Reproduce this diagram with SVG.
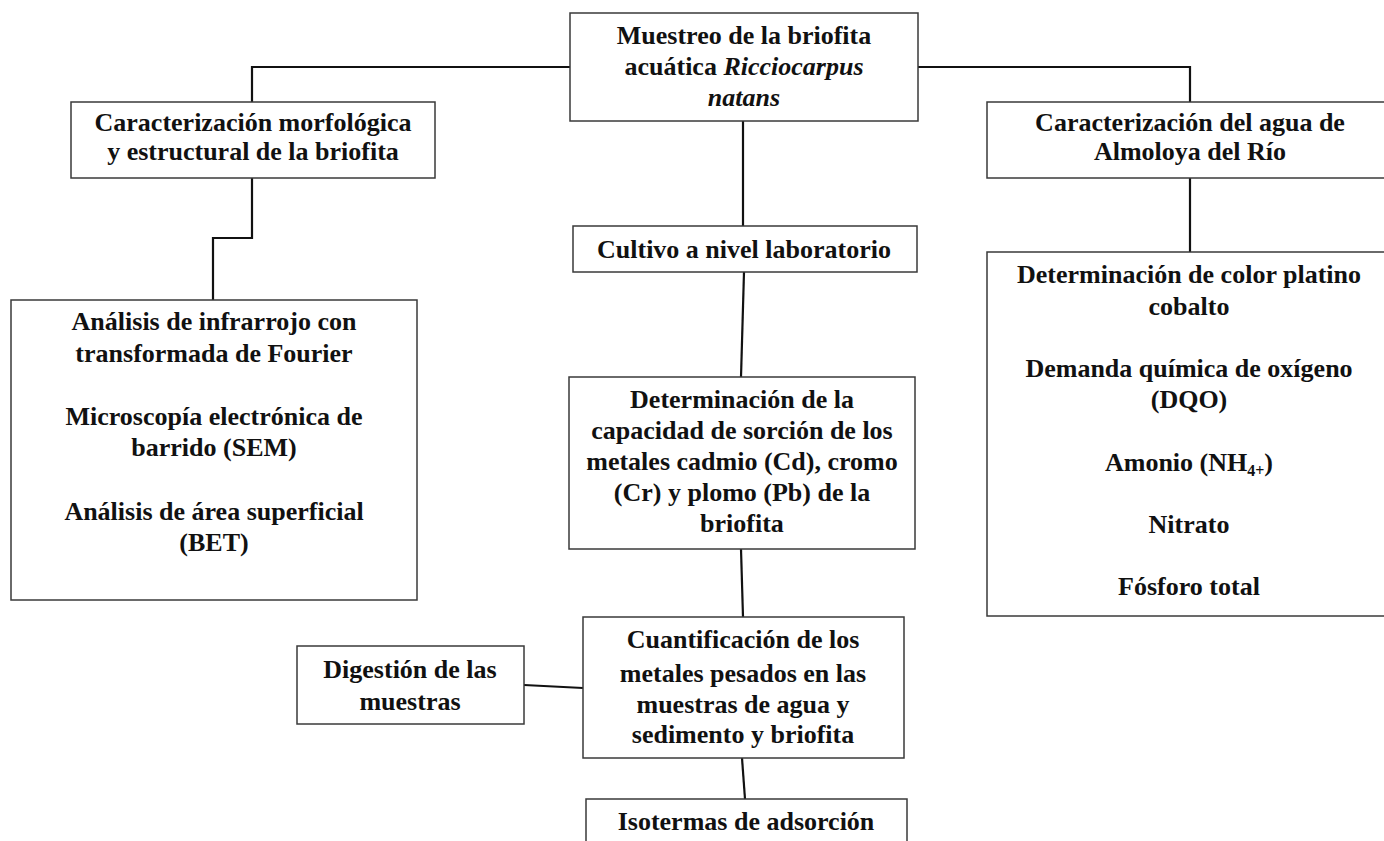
<svg xmlns="http://www.w3.org/2000/svg" width="1384" height="841" viewBox="0 0 1384 841">
<style>
.box{fill:#fff;stroke:#3a3a3a;stroke-width:1.5}
.t{font-weight:bold;font-size:26px;fill:#111;text-anchor:middle}
.c{fill:none;stroke:#111;stroke-width:2.2}
</style>
<rect width="1384" height="841" fill="#fff"/>
<g id="connectors">
<path class="c" d="M570 67 H252 V102"/>
<path class="c" d="M918 67 H1190 V102"/>
<path class="c" d="M252 178 V238 H213 V300"/>
<path class="c" d="M1190 178 V252"/>
<path class="c" d="M743 121 V226"/>
<path class="c" d="M744 272 L741 377"/>
<path class="c" d="M741 549 L743 617"/>
<path class="c" d="M524 685 L583 688"/>
<path class="c" d="M742 758 L745 799"/>
</g>
<g font-family="Liberation Serif, DejaVu Serif, serif">
<g id="n-muestreo">
<rect class="box" x="570" y="13" width="348" height="108"/>
<text class="t" x="744" y="44">Muestreo de la briofita</text>
<text class="t" x="744" y="75">acuática <tspan font-style="italic">Ricciocarpus</tspan></text>
<text class="t" x="744" y="106" font-style="italic">natans</text>
</g>
<g id="n-morfo">
<rect class="box" x="71" y="102" width="364" height="76"/>
<text class="t" x="253" y="131">Caracterización morfológica</text>
<text class="t" x="253" y="160">y estructural de la briofita</text>
</g>
<g id="n-agua">
<rect class="box" x="987" y="102" width="410" height="76"/>
<text class="t" x="1190" y="131">Caracterización del agua de</text>
<text class="t" x="1190" y="160">Almoloya del Río</text>
</g>
<g id="n-cultivo">
<rect class="box" x="573" y="226" width="344" height="46"/>
<text class="t" x="744" y="258">Cultivo a nivel laboratorio</text>
</g>
<g id="n-analisis">
<rect class="box" x="11" y="300" width="406" height="300"/>
<text class="t" x="214" y="330">Análisis de infrarrojo con</text>
<text class="t" x="214" y="362">transformada de Fourier</text>
<text class="t" x="214" y="425">Microscopía electrónica de</text>
<text class="t" x="214" y="456">barrido (SEM)</text>
<text class="t" x="214" y="520">Análisis de área superficial</text>
<text class="t" x="214" y="551">(BET)</text>
</g>
<g id="n-parametros">
<rect class="box" x="987" y="252" width="410" height="364"/>
<text class="t" x="1189" y="283">Determinación de color platino</text>
<text class="t" x="1189" y="315">cobalto</text>
<text class="t" x="1189" y="377">Demanda química de oxígeno</text>
<text class="t" x="1189" y="408">(DQO)</text>
<text class="t" x="1189" y="471">Amonio (NH<tspan font-size="16" dy="5">4+</tspan><tspan dy="-5">)</tspan></text>
<text class="t" x="1189" y="533">Nitrato</text>
<text class="t" x="1189" y="595">Fósforo total</text>
</g>
<g id="n-sorcion">
<rect class="box" x="569" y="377" width="346" height="172"/>
<text class="t" x="742" y="408">Determinación de la</text>
<text class="t" x="742" y="439">capacidad de sorción de los</text>
<text class="t" x="742" y="470">metales cadmio (Cd), cromo</text>
<text class="t" x="742" y="501">(Cr) y plomo (Pb) de la</text>
<text class="t" x="742" y="532">briofita</text>
</g>
<g id="n-digestion">
<rect class="box" x="297" y="646" width="227" height="78"/>
<text class="t" x="410" y="678">Digestión de las</text>
<text class="t" x="410" y="710">muestras</text>
</g>
<g id="n-cuantificacion">
<rect class="box" x="583" y="617" width="321" height="141"/>
<text class="t" x="743" y="648">Cuantificación de los</text>
<text class="t" x="743" y="682">metales pesados en las</text>
<text class="t" x="743" y="713">muestras de agua y</text>
<text class="t" x="743" y="743">sedimento y briofita</text>
</g>
<g id="n-isotermas">
<rect class="box" x="586" y="799" width="321" height="60"/>
<text class="t" x="746" y="830">Isotermas de adsorción</text>
</g>
</g>
</svg>
